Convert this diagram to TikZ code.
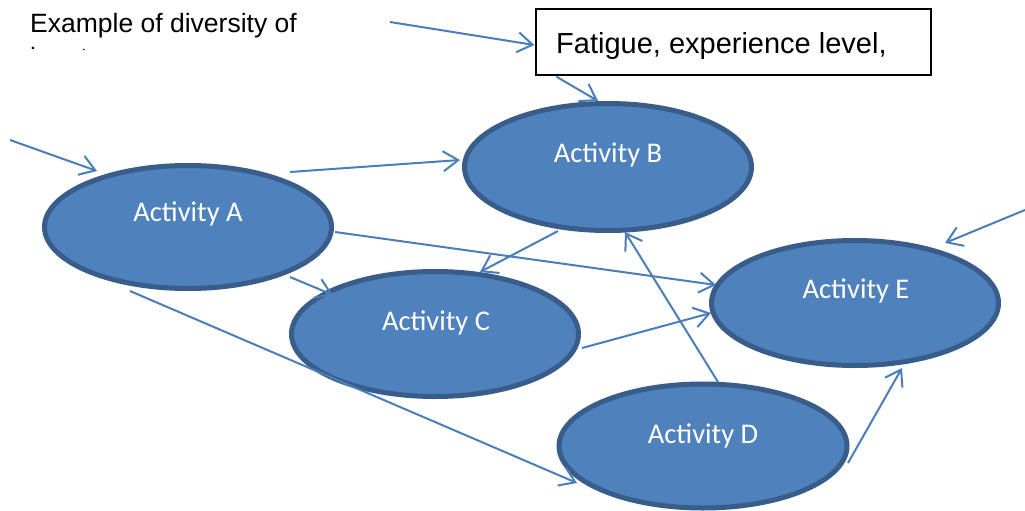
\documentclass[tikz,border=0pt]{standalone}
\usepackage{fontspec}
\setmainfont{Liberation Sans}
\newfontfamily\actfont{Carlito}
\usetikzlibrary{shapes.geometric,arrows.meta}

\definecolor{actfill}{HTML}{4F81BD}
\definecolor{actborder}{HTML}{385D8A}
\definecolor{linkblue}{HTML}{4A7EBB}

\begin{document}
\begin{tikzpicture}[x=1pt,y=-1pt,
  act/.style={ellipse, draw=actborder, fill=actfill, line width=5pt, inner sep=0pt},
  actlabel/.style={anchor=base, text=white, inner sep=0pt,
    font=\actfont\fontsize{28.5}{34}\selectfont},
  link/.style={draw=linkblue, line width=2pt,
    -{Straight Barb[length=15pt,width=20pt]}},
  note/.style={anchor=base west, inner sep=0pt, font=\fontsize{26.5}{31}\selectfont},
  infobox/.style={draw=black, line width=1.3pt, fill=white, inner sep=0pt,
    minimum width=395pt, minimum height=66pt}]

\useasboundingbox[fill=white] (0,0) rectangle (1025,511);

% heading text, second line cut off
\node[note] (head1) at (30,33) {Example of diversity of};
\begin{scope}
  \clip (0,0) rectangle (400,50);
  \node[note] (head2) at (30,66.5) {inputs};
\end{scope}

% information box
\node[infobox] (fat) at (733.5,42) {};
\node[anchor=base west, inner sep=0pt, font=\fontsize{29}{34}\selectfont] (fattext) at (556,53)
  {Fatigue, experience level,};

% activities
\node[act, minimum width=287pt, minimum height=123pt] (A) at (188,227) {};
\node[act, minimum width=287pt, minimum height=127pt] (B) at (608,167) {};
\node[act, minimum width=287pt, minimum height=125pt] (C) at (435,334) {};
\node[act, minimum width=288pt, minimum height=124pt] (D) at (703,446) {};
\node[act, minimum width=287pt, minimum height=125pt] (E) at (855,303) {};

\node[actlabel] (Alabel) at (188,221) {Activity A};
\node[actlabel] (Blabel) at (608,162) {Activity B};
\node[actlabel] (Clabel) at (436,330) {Activity C};
\node[actlabel] (Dlabel) at (703,443) {Activity D};
\node[actlabel] (Elabel) at (856,298) {Activity E};

% free ends of the incoming arrows
\coordinate (inHead) at (390,22);
\coordinate (inA) at (10,140);
\coordinate (inE) at (1025,210);

% connectors
\draw[link] (inHead) -- ([shift={(-1,3)}]fat.west);
\draw[link] ([shift={(21,1)}]fat.south west) -- ([shift={(-10,-66)}]B.center);
\draw[link] (inA) -- ([shift={(-91,-56)}]A.center);
\draw[link] ([shift={(102,-55)}]A.center) -- ([shift={(-148,-7)}]B.center);
\draw[link] ([shift={(147,5)}]A.center) -- ([shift={(-139,-18)}]E.center);
\draw[link] ([shift={(102,50)}]A.center) -- ([shift={(-102,-39)}]C.center);
\draw[link] ([shift={(-58,64)}]A.center) -- ([shift={(-126,37)}]D.center);
\draw[link] ([shift={(-50,64)}]B.center) -- ([shift={(45,-62)}]C.center);
\draw[link] ([shift={(15,-64)}]D.center) -- ([shift={(17,65)}]B.center);
\draw[link] ([shift={(147,14)}]C.center) -- ([shift={(-144,10)}]E.center);
\draw[link] ([shift={(145,17)}]D.center) -- ([shift={(47,65)}]E.center);
\draw[link] (inE) -- ([shift={(90,-60)}]E.center);
\end{tikzpicture}
\end{document}
